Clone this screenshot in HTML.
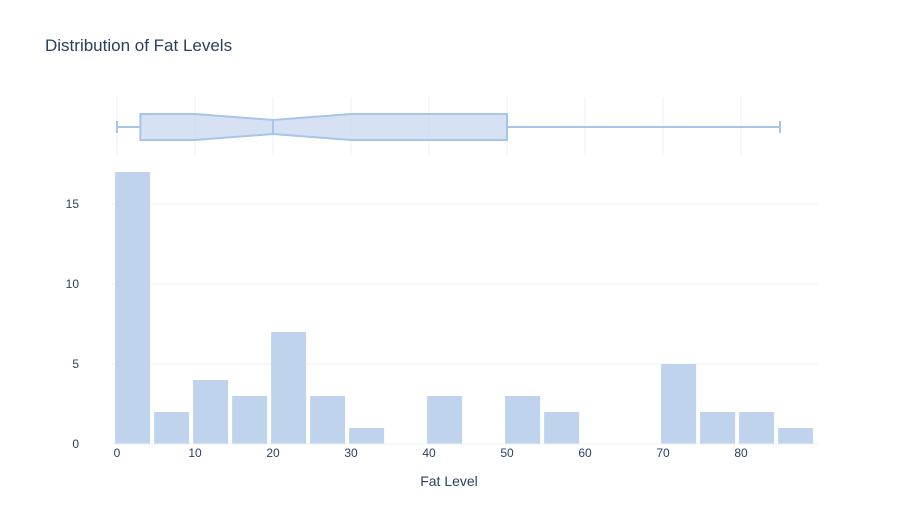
<!DOCTYPE html>
<html><head><meta charset="utf-8"><style>
body{margin:0;background:#fff;font-family:"Liberation Sans",Arial,sans-serif;}
svg text{font-family:"Liberation Sans",Arial,sans-serif;fill:#2a3f5f;}
</style></head><body>
<svg id="chart" width="898" height="525">
<text x="45" y="51" font-size="17">Distribution of Fat Levels</text>
<g id="grid"></g><g id="bars"></g><g id="box"></g><g id="axes"></g>
<text x="449" y="486" font-size="14" text-anchor="middle">Fat Level</text>
</svg>
<script>
const binStarts=[-0.5,4.5,9.5,14.5,19.5,24.5,29.5,34.5,39.5,44.5,49.5,54.5,59.5,64.5,69.5,74.5,79.5,84.5];
const counts=[17,2,4,3,7,3,1,0,3,0,3,2,0,0,5,2,2,1];
const xTicks=[0,10,20,30,40,50,60,70,80];
const yTicks=[0,5,10,15];
const boxStats={min:0,q1:3,median:20,q3:50,max:85,notchLo:10,notchHi:30};
const binWidth=5;
const ns="http://www.w3.org/2000/svg";
const X=v=>117+v*7.8, Y=v=>444-v*16;
function mk(parent,tag,attrs){const e=document.createElementNS(ns,tag);for(const k in attrs)e.setAttribute(k,attrs[k]);document.getElementById(parent).appendChild(e);return e;}
yTicks.forEach(t=>{
  if(t>0){const l=mk('grid','line',{x1:112,x2:818,y1:Y(t),y2:Y(t),stroke:'#ebf0f8','stroke-width':1});
  
  }
  const tx=mk('axes','text',{x:79,y:Y(t)+4,'font-size':12,'text-anchor':'end'});tx.textContent=t;
  
  
});
xTicks.forEach(t=>{
  const g=mk('grid','line',{x1:X(t),x2:X(t),y1:97,y2:156,stroke:'#ebf0f8','stroke-width':1});
  
  
  const tx=mk('axes','text',{x:X(t),y:457,'font-size':12,'text-anchor':'middle'});tx.textContent=t;
  
  
});
const zl=mk('axes','line',{x1:112,x2:818,y1:Y(0),y2:Y(0),stroke:'#ebf0f8'});


binStarts.forEach((b,i)=>{
  if(!counts[i])return;
  const x0=X(b)+2,x1=X(b+binWidth)-2;
  const r=mk('bars','rect',{x:x0,y:Y(counts[i]),width:x1-x0,height:Y(0)-Y(counts[i]),fill:'#c0d3ec'});
  
  
});
const s=boxStats,c=127,h=13,nh=7,col='#a9c4e8';
const p=mk('box','path',{d:`M${X(s.q1)},${c-h}H${X(s.notchLo)}L${X(s.median)},${c-nh}L${X(s.notchHi)},${c-h}H${X(s.q3)}V${c+h}H${X(s.notchHi)}L${X(s.median)},${c+nh}L${X(s.notchLo)},${c+h}H${X(s.q1)}Z`,fill:'rgba(192,211,236,0.65)',stroke:col,'stroke-width':2});


const parts=[[X(s.median),c-nh,X(s.median),c+nh],[X(s.min),c,X(s.q1),c],[X(s.q3),c,X(s.max),c],[X(s.min),c-6,X(s.min),c+6],[X(s.max),c-6,X(s.max),c+6]];
parts.forEach(q=>{const l=mk('box','line',{x1:q[0],y1:q[1],x2:q[2],y2:q[3],stroke:col,'stroke-width':2});
  
  });
</script>
</body></html>
